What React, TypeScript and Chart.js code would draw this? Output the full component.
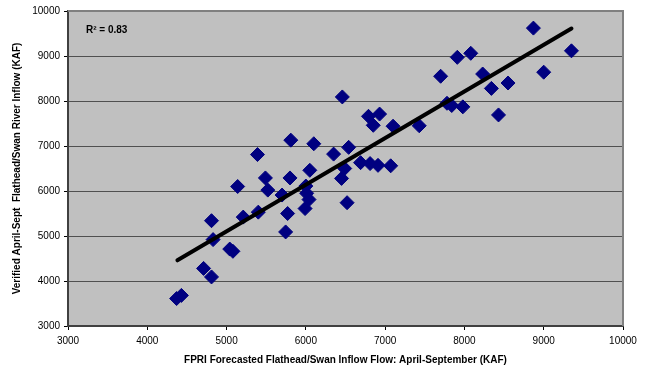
import { useEffect, useRef } from 'react';
import { Chart, registerables } from 'chart.js';

Chart.register(...registerables);

// FPRI forecasted inflow (KAF) — x values
const forecastKaf = [
  4370, 4430, 4710, 4810, 4810, 4830, 5040, 5080, 5140, 5210,
  5390, 5400, 5490, 5520, 5700, 5745, 5770, 5810, 5800, 6000,
  6010, 6040, 5990, 6050, 6100, 6350, 6460, 6450, 6490, 6520,
  6540, 6690, 6810, 6910, 7070, 6790, 6930, 6850, 7100, 7430,
  7700, 7780, 7840, 7980, 7910, 8080, 8230, 8340, 8430, 8550,
  8870, 9000, 9350,
];
// Verified April–Sept inflow (KAF) — y values
const verifiedKaf = [
  3610, 3680, 4280, 4090, 5340, 4920, 4710, 4660, 6100, 5420,
  6810, 5530, 6290, 6020, 5910, 5090, 5500, 7130, 6290, 6110,
  5950, 5810, 5610, 6460, 7050, 6820, 8090, 6280, 6500, 5740,
  6970, 6630, 6610, 6570, 6560, 7660, 7710, 7460, 7440, 7450,
  8550, 7950, 7900, 7870, 8970, 9060, 8600, 8280, 7690, 8400,
  9620, 8640, 9115,
];
// Linear trend line end points
const trendX = [4380, 9350];
const trendY = [4460, 9610];

const axisTicks = [3000, 4000, 5000, 6000, 7000, 8000, 9000, 10000];
const rSquaredLabel = 'R² = 0.83';
const xTitle = 'FPRI Forecasted Flathead/Swan Inflow Flow: April-September (KAF)';
const yTitle = 'Verified April-Sept  Flathead/Swan River Inflow (KAF)';

const FAMILY = "'Liberation Sans', Arial, sans-serif";

const plotFrame = {
  id: 'plotFrame',
  beforeDraw(chart: any) {
    const { ctx, chartArea: a } = chart;
    ctx.save();
    ctx.fillStyle = '#ffffff';
    ctx.fillRect(0, 0, chart.width, chart.height);
    ctx.fillStyle = '#c0c0c0';
    ctx.fillRect(a.left, a.top, a.right - a.left, a.bottom - a.top);
    ctx.restore();
  },
  afterDraw(chart: any) {
    const { ctx, chartArea: a } = chart;
    ctx.save();
    ctx.strokeStyle = '#808080';
    ctx.lineWidth = 2;
    ctx.beginPath();
    ctx.moveTo(a.left, a.top);
    ctx.lineTo(a.right, a.top);
    ctx.lineTo(a.right, a.bottom);
    ctx.stroke();
    ctx.fillStyle = '#000';
    ctx.font = `bold 10px ${FAMILY}`;
    ctx.textBaseline = 'middle';
    ctx.textAlign = 'left';
    const xs = chart.scales.x;
    const ys = chart.scales.y;
    ctx.fillText(rSquaredLabel, xs.left + 18, ys.top + 19);
    ctx.restore();
  },
};

const plainNumber = (v: any) => String(v);

export default function App() {
  const ref = useRef<HTMLCanvasElement | null>(null);

  useEffect(() => {
    if (!ref.current) return;
    const chart = new Chart(ref.current, {
      type: 'scatter',
      data: {
        datasets: [
          {
            type: 'line',
            data: trendX.map((x, i) => ({ x, y: trendY[i] })),
            borderColor: '#000000',
            borderWidth: 4,
            borderCapStyle: 'round',
            pointRadius: 0,
            fill: false,
          } as any,
          {
            data: forecastKaf.map((x, i) => ({ x, y: verifiedKaf[i] })),
            pointStyle: 'rectRot',
            pointRadius: 7,
            pointHoverRadius: 7,
            backgroundColor: '#000080',
            borderColor: '#000080',
            borderWidth: 1,
          },
        ],
      },
      options: {
        animation: false,
        responsive: false,
        events: [],
        layout: { padding: { left: 0, top: 11, right: 29, bottom: 0 } },
        plugins: {
          legend: { display: false },
          tooltip: { enabled: false },
        },
        scales: {
          x: {
            type: 'linear',
            min: 3000,
            max: 10000,
            afterBuildTicks: (s: any) => {
              s.ticks = axisTicks.map((v) => ({ value: v }));
            },
            afterFit: (s: any) => {
              s.height = 42;
            },
            ticks: {
              font: { size: 10, family: FAMILY },
              color: '#000',
              padding: 5,
              maxRotation: 0,
              autoSkip: false,
              callback: plainNumber,
            },
            grid: {
              drawOnChartArea: false,
              drawTicks: true,
              tickLength: 4,
              tickColor: '#000',
            },
            border: { color: '#404040', width: 2 },
            title: {
              display: true,
              text: xTitle,
              color: '#000',
              font: { size: 10, weight: 'bold', family: FAMILY },
              padding: { top: 0, bottom: 2 },
            },
          },
          y: {
            type: 'linear',
            min: 3000,
            max: 10000,
            afterBuildTicks: (s: any) => {
              s.ticks = axisTicks.map((v) => ({ value: v }));
            },
            afterFit: (s: any) => {
              s.width = 68;
            },
            ticks: {
              font: { size: 10, family: FAMILY },
              color: '#000',
              padding: 4,
              autoSkip: false,
              callback: plainNumber,
            },
            grid: {
              color: '#505050',
              lineWidth: 1,
              drawTicks: true,
              tickLength: 4,
              tickColor: '#000',
            },
            border: { color: '#404040', width: 2 },
            title: {
              display: true,
              text: yTitle,
              color: '#000',
              font: { size: 10, weight: 'bold', family: FAMILY },
              padding: { top: 11, bottom: 0 },
            },
          },
        },
      } as any,
      plugins: [plotFrame],
    });
    return () => chart.destroy();
  }, []);

  return (
    <div style={{ position: 'fixed', left: 0, top: 0, width: 652, height: 368 }}>
      <canvas ref={ref} width={652} height={368} />
    </div>
  );
}
